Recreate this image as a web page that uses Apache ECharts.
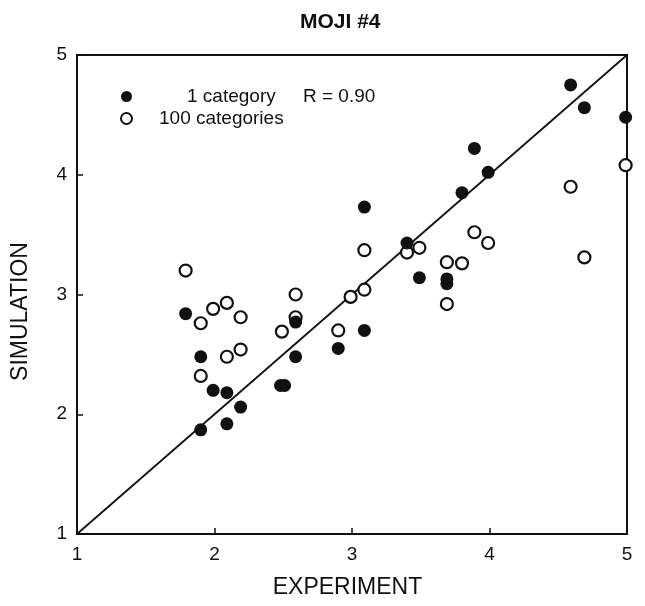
<!DOCTYPE html>
<html>
<head>
<meta charset="utf-8">
<script src="https://cdn.jsdelivr.net/npm/echarts@6/dist/echarts.min.js"></script>
<style>
  html, body { margin: 0; padding: 0; background: #fff; }
  #chart { width: 645px; height: 606px; }
</style>
</head>
<body>
<div id="chart"></div>
<script>
// values (experiment, simulation)
var oneCategory = [
  [1.79, 2.84], [1.90, 2.48], [1.90, 1.87], [1.99, 2.20], [2.09, 2.18],
  [2.09, 1.92], [2.19, 2.06], [2.48, 2.24], [2.51, 2.24], [2.59, 2.77],
  [2.59, 2.48], [2.90, 2.55], [3.09, 3.73], [3.09, 2.70], [3.40, 3.43],
  [3.49, 3.14], [3.69, 3.13], [3.69, 3.09], [3.80, 3.85], [3.89, 4.22],
  [3.99, 4.02], [4.59, 4.75], [4.69, 4.56], [4.99, 4.48]
];
var hundredCategories = [
  [1.79, 3.20], [1.90, 2.76], [1.90, 2.32], [1.99, 2.88], [2.09, 2.93],
  [2.09, 2.48], [2.19, 2.81], [2.19, 2.54], [2.49, 2.69], [2.59, 3.00],
  [2.59, 2.81], [2.90, 2.70], [2.99, 2.98], [3.09, 3.04], [3.09, 3.37],
  [3.40, 3.35], [3.49, 3.39], [3.69, 3.27], [3.69, 2.92], [3.80, 3.26],
  [3.89, 3.52], [3.99, 3.43], [4.59, 3.90], [4.69, 3.31], [4.99, 4.08]
];
var identityLine = [[1, 1], [5, 5]];
var axisMin = 1, axisMax = 5, axisStep = 1;
var rText = 'R = 0.90';

var font = 'Liberation Sans, Arial, sans-serif';
var ink = '#111';
var chart = echarts.init(document.getElementById('chart'));

function axis(name, extra) {
  return Object.assign({
    type: 'value',
    min: axisMin,
    max: axisMax,
    interval: axisStep,
    name: name,
    nameLocation: 'middle',
    axisLine: { show: true, lineStyle: { color: ink, width: 2 } },
    axisTick: { show: true, inside: true, length: 6, lineStyle: { color: ink, width: 1.5 } },
    splitLine: { show: false }
  }, extra);
}

chart.setOption({
  animation: false,
  backgroundColor: '#fff',
  title: {
    text: 'MOJI #4',
    left: 295,
    top: 7,
    textStyle: { color: ink, fontSize: 21, fontWeight: 'bold', fontFamily: font }
  },
  grid: {
    left: 77, right: 18, top: 55, bottom: 72,
    show: true, borderColor: ink, borderWidth: 2, backgroundColor: 'transparent'
  },
  xAxis: axis('EXPERIMENT', {
    nameGap: 42,
    nameTextStyle: { color: ink, fontSize: 23, fontFamily: font, padding: [0, 9, 0, 0] },
    axisLabel: { color: ink, fontSize: 19, fontFamily: font, margin: 11 }
  }),
  yAxis: axis('SIMULATION', {
    nameGap: 45,
    nameRotate: 90,
    nameTextStyle: { color: ink, fontSize: 23, fontFamily: font, padding: [0, 34, 0, 0] },
    axisLabel: { color: ink, fontSize: 19, fontFamily: font, margin: 10 }
  }),
  legend: {
    orient: 'vertical',
    left: 115,
    top: 82,
    itemWidth: 11,
    itemHeight: 11,
    itemGap: 3,
    data: [
      { name: '1 category', icon: 'circle' },
      { name: '100 categories', icon: 'circle' }
    ],
    formatter: function (n) {
      return n === '1 category' ? '{a|' + n + '}' : '{b|' + n + '}';
    },
    textStyle: {
      color: ink, fontSize: 19, fontFamily: font,
      rich: {
        a: { fontSize: 19, fontFamily: font, color: ink, padding: [0, 0, 0, 50] },
        b: { fontSize: 19, fontFamily: font, color: ink, padding: [0, 0, 0, 22] }
      }
    }
  },
  graphic: [{
    type: 'text',
    left: 303,
    top: 87,
    style: { text: rText, fontSize: 19, fontFamily: font, fill: ink }
  }],
  series: [
    {
      type: 'line',
      data: identityLine,
      showSymbol: false,
      lineStyle: { color: ink, width: 1.8 },
      silent: true,
      z: 1
    },
    {
      name: '1 category',
      type: 'scatter',
      data: oneCategory,
      symbolSize: 13,
      itemStyle: { color: ink, opacity: 1 },
      z: 3
    },
    {
      name: '100 categories',
      type: 'scatter',
      data: hundredCategories,
      symbolSize: 12,
      itemStyle: { color: '#fff', borderColor: ink, borderWidth: 2.2, opacity: 1 },
      z: 2
    }
  ]
});
</script>
</body>
</html>
